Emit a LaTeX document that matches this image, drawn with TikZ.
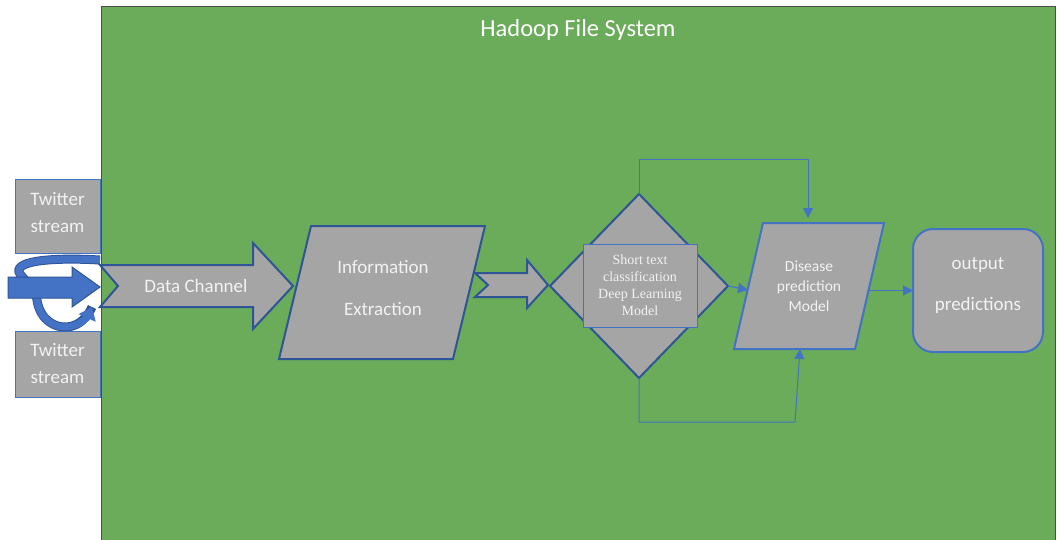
\documentclass[tikz,border=0pt]{standalone}
\usepackage{fontspec}
\setmainfont{Carlito}
\newfontfamily\timesfont{Liberation Serif}
\usetikzlibrary{arrows.meta,shapes.geometric,positioning,calc}
\definecolor{hdfsgreen}{RGB}{106,172,90}
\definecolor{boxgray}{RGB}{165,165,165}
\definecolor{darkblue}{RGB}{47,85,151}
\definecolor{lightblue}{RGB}{68,114,196}
\definecolor{textwhite}{RGB}{242,242,242}
\tikzset{
	stream/.style={draw=lightblue, line width=1pt, fill=boxgray, text=textwhite, minimum width=85pt,
		align=center, inner sep=0pt, font=\fontsize{19}{27}\selectfont},
	blockarrow/.style={draw=darkblue, fill=boxgray, line width=2pt, line join=miter},
	datain/.style={draw=darkblue, fill=lightblue, line width=1pt},
	para/.style={draw=darkblue, fill=boxgray, line width=2pt, line join=miter},
	paratext/.style={text=textwhite, align=center, inner sep=0pt},
	decision/.style={diamond, draw=darkblue, fill=boxgray, line width=2pt, inner sep=0pt, outer sep=0pt},
	classbox/.style={draw=lightblue, line width=1pt, fill=boxgray, text=textwhite, align=center,
		inner sep=0pt, font=\timesfont\fontsize{14}{17}\selectfont},
	outbox/.style={draw=lightblue, fill=boxgray, line width=2pt, rounded corners=20pt, text=textwhite,
		align=center, inner sep=0pt, outer sep=0pt},
	link/.style={draw=lightblue, line width=1pt, -{Triangle[length=10pt,width=10pt]}},
}

\begin{document}
\begin{tikzpicture}[x=1pt, y=-1pt]
	\useasboundingbox (0,0) rectangle (1059,540);
	% hadoop area
	\draw[fill=hdfsgreen, draw=black!70, line width=1pt] (101,7) rectangle (1055,542);
	\node[text=white, font=\fontsize{24.5}{28}\selectfont] (hdfs) at (578,30) {Hadoop File System};
	%
	\node[stream, minimum height=73pt, text depth=8pt] (tw1) at (57.5,216.5) {Twitter\\stream};
	\node[stream, minimum height=66pt] (tw2) at (57.5,364) {Twitter\\stream};
	\draw[darkblue, line width=9pt] (100,260) .. controls (45,257) and (12,262) .. (20,274)
		.. controls (28,284) and (36,290) .. (37,300) .. controls (40,320) and (55,328) .. (67,327)
		.. controls (80,326) and (88,316) .. (92,307);
	\draw[lightblue, line width=7pt, -{Triangle[length=12pt,width=18pt]}] (100,260) .. controls (45,257) and (12,262) .. (20,274)
		.. controls (28,284) and (36,290) .. (37,300) .. controls (40,320) and (55,328) .. (67,327)
		.. controls (80,326) and (88,316) .. (92,307);
	\draw[datain] (8,277) -- (72,277) -- (72,267) -- (100,287) -- (72,307) -- (72,298) -- (8,298) -- cycle;
	%
	\draw[blockarrow] (100,265) -- (253,265) -- (253,243) -- (293,286) -- (253,329) -- (253,307) -- (100,307) -- (118,286) -- cycle;
	\node[text=textwhite, font=\fontsize{19}{23}\selectfont] (chan) at (196,286) {Data Channel};
	\draw[blockarrow] (475,273) -- (527,273) -- (527,260) -- (548,285) -- (527,308) -- (527,297) -- (475,297) -- (488,285) -- cycle;
	%
	\draw[para] (279,359) -- (311,226) -- (485,226) -- (453,359) -- cycle;
	\node[paratext, font=\fontsize{19}{42}\selectfont] (info) at (383,288) {Information\\Extraction};
	\node[decision, minimum width=178pt, minimum height=184pt] (cls) at (639,286) {};
	\node[classbox, minimum width=114pt, minimum height=83pt] (clstext) at (640,285.5) {Short text\\classification\\Deep Learning\\Model};
	\draw[para, draw=lightblue] (734,349) -- (763,223) -- (884,223) -- (855,349) -- cycle;
	\node[paratext, font=\fontsize{15.5}{20}\selectfont] (dis) at (809,286) {Disease\\prediction\\Model};
	\coordinate (dis-top) at (808,223);
	\coordinate (dis-bottom) at (800,349);
	\coordinate (dis-left) at (748,290);
	\coordinate (dis-right) at (868,290.5);
	\node[outbox, minimum width=130pt, minimum height=123pt, text depth=14pt, font=\fontsize{19}{41}\selectfont] (out) at (978,290.5) {output\\predictions};
	%
	\coordinate (lowturn) at (795,422);
	\draw[link, shorten >=5pt] (cls.north) -- ++(0,-34) -| (dis-top);
	\draw[link] (cls.south) |- (lowturn) -- (dis-bottom);
	\draw[link] (cls.east) -- (dis-left);
	\draw[link] (dis-right) -- (out.west);
\end{tikzpicture}
\end{document}
